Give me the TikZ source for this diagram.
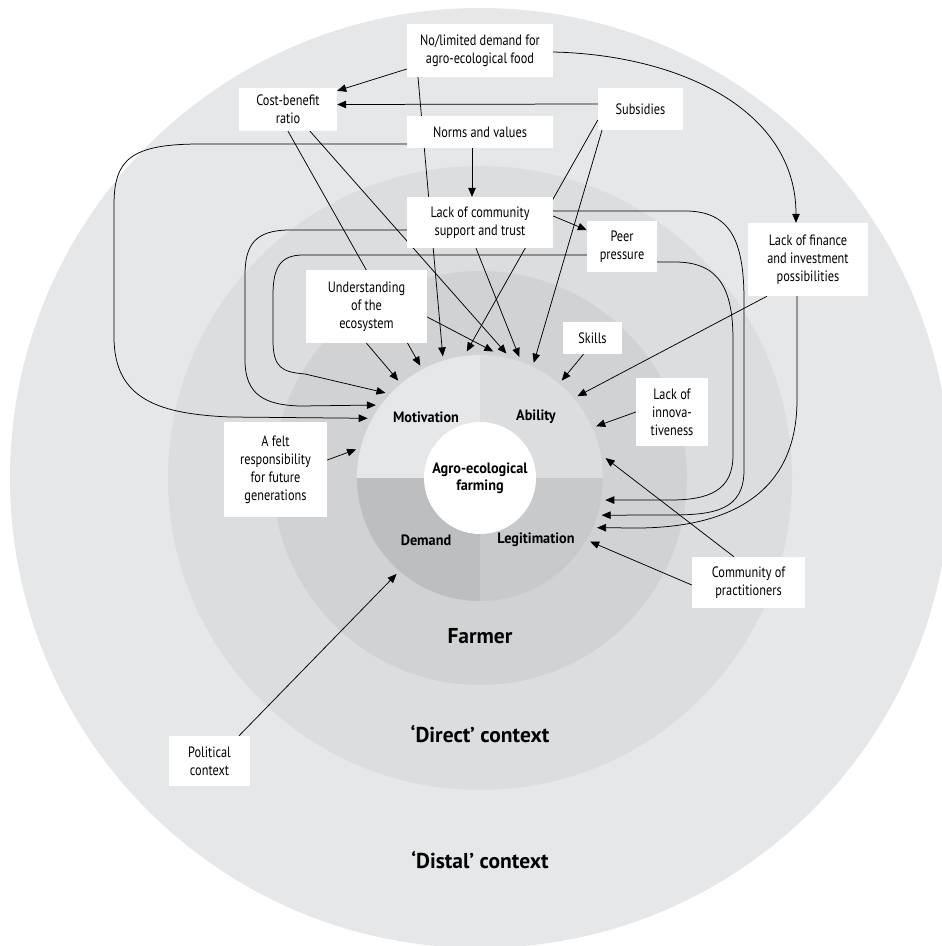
\documentclass[tikz,border=0pt]{standalone}
\usepackage{fontspec}
\setmainfont{PT Sans}
\newfontfamily\narrowsans{PT Sans}[FakeStretch=0.82]
\newfontfamily\quadsans{PT Sans}[FakeStretch=0.95]
\usetikzlibrary{arrows.meta}

\definecolor{distal}{HTML}{E6E7E8}
\definecolor{direct}{HTML}{DCDDDF}
\definecolor{farmer}{HTML}{D1D2D4}
\definecolor{motiv}{HTML}{E6E7E8}
\definecolor{abil}{HTML}{DCDDDF}
\definecolor{demand}{HTML}{BCBEC0}
\definecolor{legit}{HTML}{C8C9CB}

\pgfdeclarelayer{back}
\pgfdeclarelayer{links}
\pgfsetlayers{back,links,main}

\tikzset{
  factor/.style={fill=white, align=center, inner sep=0pt, font=\narrowsans\fontsize{15}{18}\selectfont},
  quad/.style={font=\quadsans\bfseries\fontsize{15}{17}\selectfont},
  ctx/.style={font=\bfseries\fontsize{21.5}{24}\selectfont},
  arr/.style={-{Triangle[length=9pt,width=7.5pt]}, line width=0.75pt},
}

\begin{document}
\begin{tikzpicture}[x=1pt, y=-1pt]
    \useasboundingbox (0,0) rectangle (942,946);

    % context rings and the four quadrants
    \begin{pgfonlayer}{back}
        \fill[distal] (480,478) circle[radius=470];
        \fill[direct] (480,478) circle[radius=312];
        \fill[farmer] (480,478) circle[radius=207];
        \begin{scope}
            \clip (480,478) circle[radius=123];
            \fill[motiv] (357,355) rectangle (480,478);
            \fill[abil] (480,355) rectangle (603,478);
            \fill[demand] (357,478) rectangle (480,601);
            \fill[legit] (480,478) rectangle (603,601);
        \end{scope}
    \end{pgfonlayer}

    \node[circle, minimum size=254pt, inner sep=0pt] (ring) at (480,478) {};
    \node[circle, fill=white, minimum size=112pt, inner sep=0pt, align=center, quad] (core) at (480,478) {Agro-ecological\\farming};

    \node[quad] (motivation) at (426,417) {Motivation};
    \node[quad] (ability) at (536,417) {Ability};
    \node[quad] (demandlbl) at (426,540) {Demand};
    \node[quad] (legitimation) at (536,540) {Legitimation};

    \node[ctx] (farmerlbl) at (480,636) {Farmer};
    \node[ctx] (directlbl) at (480,734) {`Direct' context};
    \node[ctx] (distallbl) at (480,860) {`Distal' context};

    % factors
    \node[factor, minimum width=146pt, minimum height=53pt] (nolim) at (480,50.5) {No/limited demand for\\agro-ecological food};
    \node[factor, minimum width=98pt, minimum height=43pt] (cost) at (288,109.5) {Cost-benefit\\ratio};
    \node[factor, minimum width=85pt, minimum height=42pt] (subs) at (640.5,109) {Subsidies};
    \node[factor, minimum width=146pt, minimum height=32pt] (norms) at (480,132) {Norms and values};
    \node[factor, minimum width=146pt, minimum height=51pt] (loc) at (480,222.5) {Lack of community\\support and trust};
    \node[factor, minimum width=70pt, minimum height=51pt] (peer) at (622,246.5) {Peer\\pressure};
    \node[factor, minimum width=120pt, minimum height=73pt] (finance) at (808,259.5) {Lack of finance\\and investment\\possibilities};
    \node[factor, minimum width=121pt, minimum height=73pt] (underst) at (366.5,306.5) {Understanding\\of the\\ecosystem};
    \node[factor, minimum width=59pt, minimum height=32pt] (skills) at (592.5,338) {Skills};
    \node[factor, minimum width=72pt, minimum height=68pt] (innov) at (672,412) {Lack of\\innova-\\tiveness};
    \node[factor, minimum width=103pt, minimum height=95pt] (felt) at (275.5,469.5) {A felt\\responsibility\\for future\\generations};
    \node[factor, minimum width=113pt, minimum height=51pt] (comm) at (748.5,582.5) {Community of\\practitioners};
    \node[factor, minimum width=81pt, minimum height=50pt] (polit) at (209.5,761) {Political\\context};

    % influences
    \begin{pgfonlayer}{links}
        \draw[arr] ([yshift=-18.5]nolim.west) -- ([yshift=-3]cost.north east);
        \draw[arr] ([yshift=5]subs.west) -- ([yshift=5]cost.east);
        \draw[arr] ([xshift=-8]norms.south) -- ([xshift=-8]loc.north);
        \draw[arr] ([xshift=-62]nolim.south) -- (ring.107);
        \draw[arr] ([yshift=-1.5]nolim.east) .. controls (680,55) and (796,110) .. ([xshift=-12]finance.north);

        \draw[arr] (cost.south) -- (ring.118);
        \draw[arr] ([xshift=22]cost.south) -- (ring.78);
        \draw[arr] ([yshift=-11]subs.west) -- (ring.96);
        \draw[arr] ([xshift=-38.5]subs.south) -- (ring.65);

        \draw[arr] ([xshift=-4]loc.south) -- (ring.72);
        \draw[arr] ([yshift=6.5]loc.east) -- (peer.155);
        \draw[arr] ([yshift=-7.5]loc.west) -- (290,230) .. controls (255,230) and (245,245) .. (245,275)
            -- (245,360) .. controls (245,395) and (265,405) .. (300,406) -- (ring.145);
        \draw[arr] ([yshift=11.5]loc.east) -- (685,211) .. controls (730,211) and (744,240) .. (744,300)
            -- (744,470) .. controls (744,510) and (715,515) .. (670,515) -- (ring.-17);

        \draw[arr] ([yshift=-8.5]peer.west) -- (303,255) .. controls (280,255) and (273,268) .. (273,295)
            -- (273,340) .. controls (273,368) and (282,372) .. (305,374) -- (ring.138);
        \draw[arr] ([yshift=-15.5]peer.east) -- (675,262) .. controls (720,262) and (733,290) .. (733,340)
            -- (733,455) .. controls (733,490) and (710,500) .. (670,500) -- (ring.-10);

        \draw[arr] ([yshift=-12]norms.west) -- (200,144) .. controls (130,144) and (114,160) .. (114,205)
            -- (114,337) .. controls (114,400) and (160,414) .. (230,417) -- (ring.152);

        \draw[arr] (underst.south) -- (ring.130);
        \draw[arr] ([yshift=-10.5]underst.east) -- (ring.84);
        \draw[arr] ([xshift=-9]skills.south) -- (ring.50);
        \draw[arr] ([xshift=-41]finance.south) -- (ring.40);
        \draw[arr] ([xshift=-11]finance.south) -- (797,400) .. controls (797,500) and (720,527) .. (640,528) -- (ring.-23);
        \draw[arr] (innov.west) -- (ring.24);
        \draw[arr] ([xshift=-14.5]comm.north) -- (ring.9);
        \draw[arr] ([yshift=-2.5]comm.west) -- (ring.-30);
        \draw[arr] ([yshift=9.5]felt.east) -- (ring.167);
        \draw[arr] ([xshift=29.5]polit.north) -- (ring.229);
    \end{pgfonlayer}
\end{tikzpicture}
\end{document}
